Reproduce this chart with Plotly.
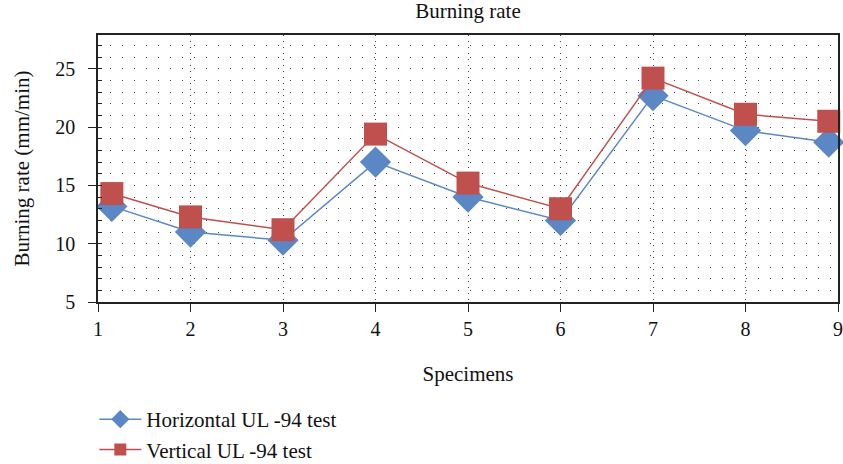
import plotly.graph_objects as go

specimens = [1.15, 2, 3, 4, 5, 6, 7, 8, 8.9]
horizontal = [13.2, 11.0, 10.3, 17.0, 14.0, 12.0, 22.7, 19.7, 18.7]
vertical = [14.3, 12.3, 11.2, 19.4, 15.2, 13.0, 24.2, 21.1, 20.5]
x_ticks = [1, 2, 3, 4, 5, 6, 7, 8, 9]
y_ticks = [5, 10, 15, 20, 25]
series_names = ["Horizontal UL -94 test", "Vertical UL -94 test"]

FONT = "Liberation Serif"
BLUE = "#5B87C5"
RED = "#C0504D"

fig = go.Figure()
fig.add_trace(go.Scatter(
    x=specimens, y=horizontal, mode="lines+markers", name=series_names[0],
    line=dict(color=BLUE, width=1.5),
    marker=dict(symbol="diamond", size=24, color=BLUE),
    cliponaxis=False, showlegend=False,
))
fig.add_trace(go.Scatter(
    x=specimens, y=vertical, mode="lines+markers", name=series_names[1],
    line=dict(color=RED, width=1.5),
    marker=dict(symbol="square", size=23, color=RED),
    cliponaxis=False, showlegend=False,
))
# legend entries (small symbols, thin lines)
fig.add_trace(go.Scatter(
    x=[None], y=[None], mode="lines+markers", name=series_names[0],
    line=dict(color=BLUE, width=1.5),
    marker=dict(symbol="diamond", size=14, color=BLUE),
))
fig.add_trace(go.Scatter(
    x=[None], y=[None], mode="lines+markers", name=series_names[1],
    line=dict(color=RED, width=1.5),
    marker=dict(symbol="square", size=12, color=RED),
))

PLOT_H = 464 - 35 - 162

fig.update_layout(
    width=843, height=464,
    margin=dict(l=98, r=5, t=35, b=162, autoexpand=False),
    paper_bgcolor="white", plot_bgcolor="white",
    font=dict(family=FONT, size=20, color="#111"),
    title=dict(text="Burning rate", xref="paper", x=0.5, xanchor="center",
               yref="container", y=0.992, yanchor="top",
               font=dict(family=FONT, size=21, color="#111")),
    showlegend=True,
    legend=dict(x=-0.005, xanchor="left", y=-97 / PLOT_H, yanchor="top",
                font=dict(family=FONT, size=21, color="#111"),
                bgcolor="rgba(0,0,0,0)", itemwidth=42),
    xaxis=dict(
        range=[1, 9], tickvals=x_ticks, ticktext=[str(v) for v in x_ticks],
        automargin=False,
        showline=True, linecolor="#222", linewidth=1.5, mirror=True,
        ticks="outside", ticklen=8, tickcolor="#222", ticklabelstandoff=0,
        showgrid=True, gridcolor="#444", gridwidth=1, griddash="1px,5px",
        zeroline=False,
        title=dict(text="Specimens", standoff=28, font=dict(family=FONT, size=21)),
        tickfont=dict(family=FONT, size=20),
    ),
    yaxis=dict(
        range=[5, 27.9], tickvals=y_ticks,
        automargin=False,
        showline=True, linecolor="#222", linewidth=1.5, mirror=True,
        ticks="outside", ticklen=8, tickcolor="#222", ticklabelstandoff=9,
        minor=dict(dtick=1, tick0=0, ticks="inside", ticklen=4, tickcolor="#222",
                   showgrid=True, gridcolor="#444", gridwidth=1, griddash="1px,11px"),
        showgrid=True, gridcolor="#444", gridwidth=1, griddash="1px,11px",
        zeroline=False,
        title=dict(text="Burning rate (mm/min)", standoff=20, font=dict(family=FONT, size=21)),
        tickfont=dict(family=FONT, size=20),
    ),
)

fig.write_html("out.html", config={"displayModeBar": False},
               post_script="document.body.style.margin='0';")
